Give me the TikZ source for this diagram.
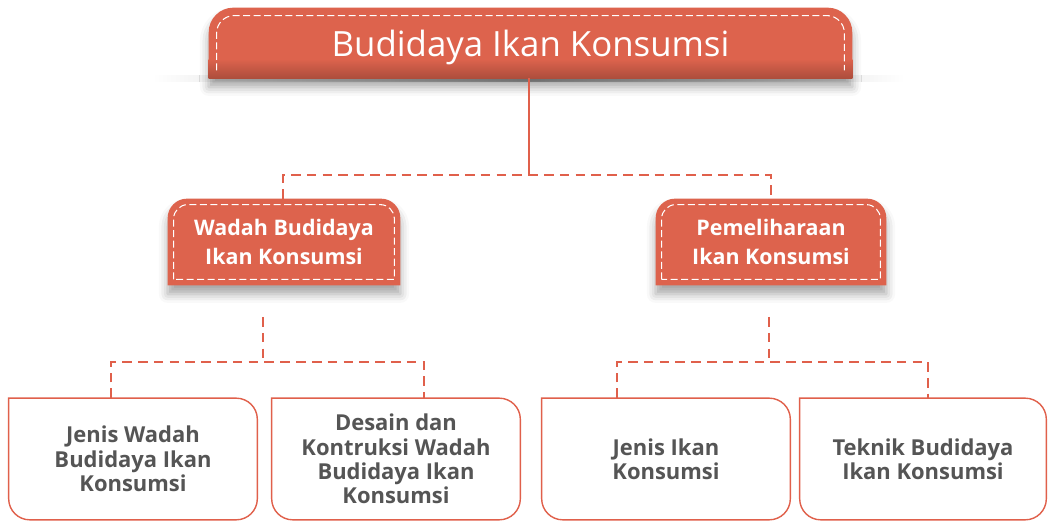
\documentclass[tikz,border=0pt]{standalone}
\usepackage{fontspec}
\setmainfont{Open Sans}
\usetikzlibrary{shadows.blur}
\pgfdeclarelayer{bg}
\pgfsetlayers{bg,main}
\definecolor{boxred}{HTML}{DD634D}
\definecolor{linered}{HTML}{E0604B}
\definecolor{textgray}{HTML}{555555}
\tikzset{
  headtext/.style={text=white, align=center, text depth=0pt, font=\fontsize{19.8}{24}\selectfont},
  subtext/.style={text=white, align=center, font=\bfseries\fontsize{12.2}{17}\selectfont},
  leaftext/.style={text=textgray, align=center, font=\bfseries\fontsize{12.5}{13.8}\selectfont},
  inline/.style={white, line width=0.6pt, dash pattern=on 4pt off 2pt},
  solidlink/.style={linered, line width=1.4pt},
  dashlink/.style={linered, line width=1.2pt, dash pattern=on 5.5pt off 3.5pt},
  redshadow/.style={blur shadow={shadow xshift=0pt, shadow yshift=-5pt, shadow blur radius=5pt, shadow opacity=35}}
}
\begin{document}
\begin{tikzpicture}[x=0.02cm, y=0.02cm]
            \useasboundingbox (0,0) rectangle (1048,521);

            %boxes
            \node[headtext, minimum width=12.86cm, minimum height=1.4cm] (title) at (530.5,478) {Budidaya Ikan Konsumsi};

            \node[subtext, minimum width=4.64cm, minimum height=1.72cm] (wadah) at (284,279) {Wadah Budidaya\\Ikan Konsumsi};

            \node[subtext, minimum width=4.6cm, minimum height=1.72cm] (pemel) at (771,279) {Pemeliharaan\\Ikan Konsumsi};

            \node[leaftext, minimum width=4.96cm, minimum height=2.42cm] (jeniswadah) at (133,62) {Jenis Wadah\\Budidaya Ikan\\Konsumsi};

            \node[leaftext, minimum width=4.96cm, minimum height=2.42cm] (desain) at (396,62) {Desain dan\\Kontruksi Wadah\\Budidaya Ikan\\Konsumsi};

            \node[leaftext, minimum width=4.96cm, minimum height=2.42cm] (jenisikan) at (666,62) {Jenis Ikan\\Konsumsi};

            \node[leaftext, minimum width=4.92cm, minimum height=2.42cm] (teknik) at (923,62) {Teknik Budidaya\\Ikan Konsumsi};

            \begin{pgfonlayer}{bg}
            %title tab
            \shade[left color=white, right color=white, middle color=black!35] (152,439) rectangle (905,445);

            \fill[boxred, redshadow] (title.south west) [rounded corners=14pt] -- (title.north west) -- (title.north east) [sharp corners] -- (title.south east) -- cycle;

            \shade[top color=boxred, bottom color=boxred!78!black] ([yshift=11pt]title.south west) rectangle (title.south east);

            \draw[inline] ([xshift=4.5pt,yshift=4.5pt]title.south west) [rounded corners=10pt] -- ([xshift=4.5pt,yshift=-4.5pt]title.north west) -- ([xshift=-4.5pt,yshift=-4.5pt]title.north east) [sharp corners] -- ([xshift=-4.5pt,yshift=4.5pt]title.south east);

            %second level
            \fill[boxred, redshadow] (wadah.south west) [rounded corners=11pt] -- (wadah.north west) -- (wadah.north east) [sharp corners] -- (wadah.south east) -- cycle;

            \draw[inline] ([xshift=3.4pt,yshift=3.4pt]wadah.south west) [rounded corners=8pt] -- ([xshift=3.4pt,yshift=-3.4pt]wadah.north west) -- ([xshift=-3.4pt,yshift=-3.4pt]wadah.north east) [sharp corners] -- ([xshift=-3.4pt,yshift=3.4pt]wadah.south east) -- cycle;

            \fill[boxred, redshadow] (pemel.south west) [rounded corners=11pt] -- (pemel.north west) -- (pemel.north east) [sharp corners] -- (pemel.south east) -- cycle;

            \draw[inline] ([xshift=3.4pt,yshift=3.4pt]pemel.south west) [rounded corners=8pt] -- ([xshift=3.4pt,yshift=-3.4pt]pemel.north west) -- ([xshift=-3.4pt,yshift=-3.4pt]pemel.north east) [sharp corners] -- ([xshift=-3.4pt,yshift=3.4pt]pemel.south east) -- cycle;

            %leaves
            \draw[linered, line width=0.8pt, fill=white] (jeniswadah.north west) [rounded corners=12pt] -- (jeniswadah.north east) -- (jeniswadah.south east) -- (jeniswadah.south west) [sharp corners] -- cycle;

            \draw[linered, line width=0.8pt, fill=white] (desain.north west) [rounded corners=12pt] -- (desain.north east) -- (desain.south east) -- (desain.south west) [sharp corners] -- cycle;

            \draw[linered, line width=0.8pt, fill=white] (jenisikan.north west) [rounded corners=12pt] -- (jenisikan.north east) -- (jenisikan.south east) -- (jenisikan.south west) [sharp corners] -- cycle;

            \draw[linered, line width=0.8pt, fill=white] (teknik.north west) [rounded corners=12pt] -- (teknik.north east) -- (teknik.south east) -- (teknik.south west) [sharp corners] -- cycle;
            \end{pgfonlayer}

            %links
            \coordinate (fork) at (529,346);
            \coordinate (wtop) at (263,204);
            \coordinate (wfork) at (263,159);
            \coordinate (ptop) at (769,204);
            \coordinate (pfork) at (769,159);

            \draw[solidlink] (title.south -| fork) -- (fork);

            \draw[dashlink] (wadah.north -| 283,0) |- (fork) -| (pemel.north);

            \draw[dashlink] (wtop) -- (wfork);

            \draw[dashlink] (jeniswadah.110) |- (wfork) -| (desain.65);

            \draw[dashlink] (ptop) -- (pfork);

            \draw[dashlink] (jenisikan.129) |- (pfork) -| (teknik.85);
        \end{tikzpicture}
\end{document}
